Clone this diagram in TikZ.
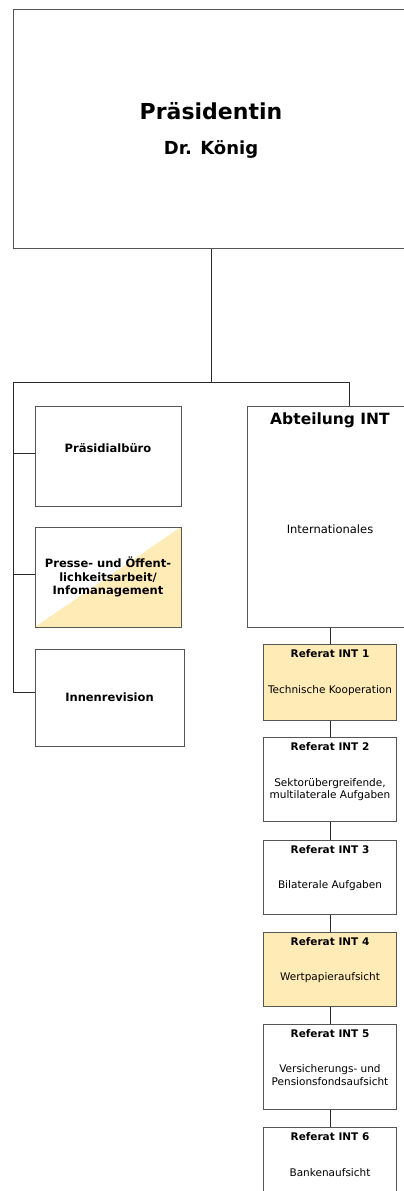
\documentclass[tikz,border=0pt]{standalone}
\usepackage{fontspec}
\setmainfont{DejaVu Sans}
\usepackage{xcolor}
\usepackage{tikz}
\usetikzlibrary{positioning}
\definecolor{randgrau}{HTML}{555555}
\definecolor{liniengrau}{HTML}{2A2A2A}
\definecolor{referatgelb}{HTML}{FFEBB5}

\begin{document}
\begin{tikzpicture}[
    x=1pt, y=-1pt,
    node distance=17pt,
    kasten/.style={rectangle, draw=randgrau, line width=1pt, 
                   fill=white, inner sep=0pt},
    gelb/.style={fill=referatgelb},
    linie/.style={draw=liniengrau, line width=0.8pt},
    leitung/.style={font=\bfseries\fontsize{11.5}{13.5}\selectfont, 
                    align=center},
    titel/.style={font=\bfseries\fontsize{10.5}{12}\selectfont, 
                  anchor=north, inner sep=0pt},
    aufgabe/.style={font=\fontsize{10.5}{12.5}\selectfont, 
                    align=center, inner sep=0pt},
    referat/.style={kasten, minimum width=133pt}
]
\clip (0,0) rectangle (404,1191);

% Leitung
\node[kasten, minimum width=396pt, minimum height=239pt] (praes) at (211,128.5) {};
\node[font=\bfseries\fontsize{22}{26}\selectfont, anchor=base] (praestitel) 
    at ([yshift=9.5pt]praes.center) {Präsidentin};
\node[font=\bfseries\fontsize{18}{22}\selectfont, anchor=base] (praesname) 
    at ([yshift=-25.8pt]praes.center) {Dr. König};

% Stabsstellen
\node[kasten, minimum width=146pt, minimum height=100pt] (buero) at (108,456) {};
\node[leitung] (buerotext) at ([yshift=8pt]buero.center) {Präsidialbüro};
\node[kasten, leitung, minimum width=146pt, minimum height=100pt,
      path picture={\fill[gelb] (path picture bounding box.south west) 
          -- (path picture bounding box.south east) 
          -- (path picture bounding box.north east) -- cycle;}] 
    (presse) at (108,577) {Presse- und Öffent-\\lichkeitsarbeit/\\Infomanagement};
\node[kasten, leitung, minimum width=149pt, minimum height=97pt] 
    (revision) at (109.5,697.5) {Innenrevision};

% Abteilung
\node[kasten, minimum width=166pt, minimum height=221pt] (abt) at (330,516.5) {};
\node[font=\bfseries\fontsize{15.5}{18}\selectfont, anchor=north, inner sep=0pt] 
    (abttitel) at ([yshift=-7.5pt]abt.north) {Abteilung INT};
\node[font=\fontsize{11.5}{13.5}\selectfont, inner sep=0pt] 
    (abttext) at ([yshift=-12.5pt]abt.center) {Internationales};

% Referate
\node[referat, gelb, minimum height=76pt, below=16pt of abt] (r1) {};
\node[referat, minimum height=84pt, below=16pt of r1] (r2) {};
\node[referat, minimum height=74pt, below=18pt of r2] (r3) {};
\node[referat, gelb, minimum height=74pt, below=of r3] (r4) {};
\node[referat, minimum height=85pt, below=of r4] (r5) {};
\node[referat, minimum height=74pt, below=of r5] (r6) {};

\node[titel] (r1titel) at ([yshift=-6pt]r1.north) {Referat INT 1};
\node[aufgabe] (r1text) at ([yshift=-9pt]r1.center) {Technische Kooperation};
\node[titel] (r2titel) at ([yshift=-6pt]r2.north) {Referat INT 2};
\node[aufgabe] (r2text) at ([yshift=-10.5pt]r2.center) 
    {Sektorübergreifende,\\multilaterale Aufgaben};
\node[titel] (r3titel) at ([yshift=-6pt]r3.north) {Referat INT 3};
\node[aufgabe] (r3text) at ([yshift=-9pt]r3.center) {Bilaterale Aufgaben};
\node[titel] (r4titel) at ([yshift=-6pt]r4.north) {Referat INT 4};
\node[aufgabe] (r4text) at ([yshift=-9pt]r4.center) {Wertpapieraufsicht};
\node[titel] (r5titel) at ([yshift=-6pt]r5.north) {Referat INT 5};
\node[aufgabe] (r5text) at ([yshift=-8.5pt]r5.center) 
    {Versicherungs- und\\Pensionsfondsaufsicht};
\node[titel] (r6titel) at ([yshift=-6pt]r6.north) {Referat INT 6};
\node[aufgabe] (r6text) at ([yshift=-9pt]r6.center) {Bankenaufsicht};

% Verbindungen
\coordinate (abzweig) at (211,382);
\coordinate (links) at (13,382);
\coordinate (rechts) at (349,382);
\draw[linie] (praes.south) -- (abzweig);
\draw[linie] (links) -- (rechts) -- (rechts |- abt.north);
\draw[linie] (links) |- ([yshift=5.5pt]revision.west);
\draw[linie] (links |- buero.west) ++(0,-3) -- ([yshift=3pt]buero.west);
\draw[linie] (links |- presse.west) ++(0,-3) -- ([yshift=3pt]presse.west);
\foreach \oben/\unten in {abt/r1, r1/r2, r2/r3, r3/r4, r4/r5, r5/r6}
    \draw[linie] (\oben.south) -- (\unten.north);
\end{tikzpicture}
\end{document}
